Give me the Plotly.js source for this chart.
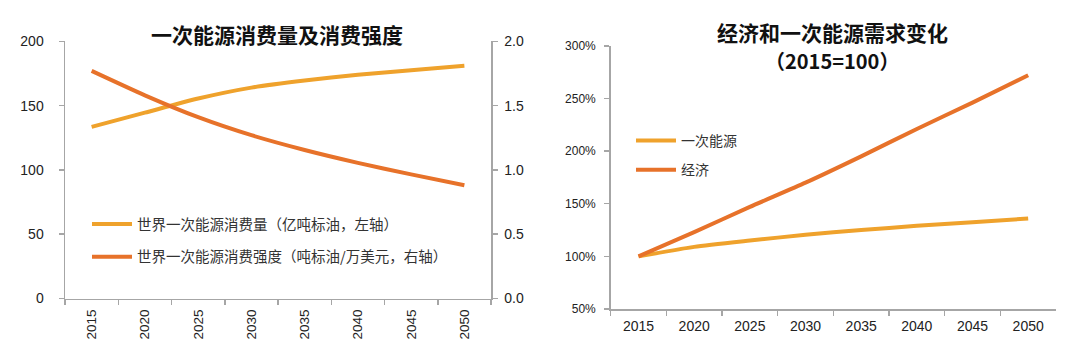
<!DOCTYPE html>
<html>
<head>
<meta charset="utf-8">
<script src="https://cdn.plot.ly/plotly-3.0.1.min.js"></script>
<style>html,body{margin:0;padding:0;background:#fff;}#chart{width:1080px;height:345px;}</style>
</head>
<body>
<div id="chart"></div>
<script>
// ---- data ----
const years = ['2015','2020','2025','2030','2035','2040','2045','2050'];
const consumption = [133.5, 144.5, 155.5, 164, 169.5, 174, 177.5, 181];        // 亿吨标油, left axis
const intensity   = [1.77, 1.58, 1.41, 1.27, 1.155, 1.055, 0.965, 0.88];       // 吨标油/万美元, right axis
const energyIdx   = [100, 109, 115, 120.5, 125, 129, 132.5, 136];              // 一次能源 (%)
const economyIdx  = [100, 123, 147, 170, 195, 221, 246, 272];                  // 经济 (%)

const leftTitle = '一次能源消费量及消费强度';
const rightTitle1 = '经济和一次能源需求变化';
const rightTitle2 = '（2015=100）';
const nameConsumption = '世界一次能源消费量（亿吨标油，左轴）';
const nameIntensity = '世界一次能源消费强度（吨标油/万美元，右轴）';
const nameEnergy = '一次能源';
const nameEconomy = '经济';

const YEL = '#EFA22C';
const ORG = '#E7722A';
const AX = '#A6A6A6';
const NUM = 'Liberation Sans, Arial, sans-serif';
const CJK = 'Noto Sans CJK SC, sans-serif';

const W = 1080, H = 345;
const px = v => v / W;
const py = v => 1 - v / H;

const lineStyle = (c) => ({color: c, width: 4, shape: 'spline', smoothing: 0.6});

const traces = [
  {x: years, y: consumption, name: nameConsumption, type: 'scatter', mode: 'lines',
   line: lineStyle(YEL), xaxis: 'x', yaxis: 'y', legend: 'legend', legendgroup: 'a'},
  {x: years, y: intensity, name: nameIntensity, type: 'scatter', mode: 'lines',
   line: lineStyle(ORG), xaxis: 'x', yaxis: 'y2', legend: 'legend', legendgroup: 'b'},
  {x: years, y: energyIdx, name: nameEnergy, type: 'scatter', mode: 'lines',
   line: lineStyle(YEL), xaxis: 'x2', yaxis: 'y3', legend: 'legend2', legendgroup: 'c'},
  {x: years, y: economyIdx, name: nameEconomy, type: 'scatter', mode: 'lines',
   line: lineStyle(ORG), xaxis: 'x2', yaxis: 'y3', legend: 'legend2', legendgroup: 'd'}
];

const baseAxis = {
  showgrid: false, zeroline: false, showline: true, linecolor: AX, linewidth: 1.5,
  ticks: 'outside', ticklen: 5, tickcolor: AX, tickwidth: 1.5, fixedrange: true
};

const layout = {
  width: W, height: H,
  margin: {l: 0, r: 0, t: 0, b: 0},
  paper_bgcolor: '#fff', plot_bgcolor: '#fff',
  showlegend: true,
  xaxis: Object.assign({}, baseAxis, {
    domain: [px(65), px(491)], anchor: 'y', type: 'category', tickson: 'boundaries',
    range: [-0.5, 7.5], tickangle: -90,
    tickfont: {family: NUM, size: 13.5, color: '#222'}, ticklabelstandoff: 4
  }),
  yaxis: Object.assign({}, baseAxis, {
    domain: [py(298.5), py(41.3)], anchor: 'x', range: [0, 200], dtick: 50,
    tickfont: {family: NUM, size: 14, color: '#222'}, ticklabelstandoff: 12
  }),
  yaxis2: Object.assign({}, baseAxis, {
    domain: [py(298.5), py(41.3)], anchor: 'x', overlaying: 'y', side: 'right',
    range: [0, 2], dtick: 0.5, tickformat: '.1f',
    tickfont: {family: NUM, size: 14, color: '#222'}, ticklabelstandoff: 4
  }),
  xaxis2: Object.assign({}, baseAxis, {
    domain: [px(610.7), px(1056)], anchor: 'y3', type: 'category', tickson: 'boundaries',
    range: [-0.5, 7.5],
    tickfont: {family: NUM, size: 14, color: '#222'},
    ticklabelstandoff: 4
  }),
  yaxis3: Object.assign({}, baseAxis, {
    domain: [py(309), py(45.8)], anchor: 'x2', range: [50, 300], dtick: 50, ticksuffix: '%',
    tickfont: {family: NUM, size: 12, color: '#222'}, ticklabelstandoff: 6
  }),
  legend: {
    x: px(87), y: py(208), xanchor: 'left', yanchor: 'top', xref: 'paper', yref: 'paper',
    bgcolor: 'rgba(0,0,0,0)', tracegroupgap: 11, itemwidth: 40,
    font: {family: CJK, size: 14.5, color: '#333'}
  },
  legend2: {
    x: px(631), y: py(125), xanchor: 'left', yanchor: 'top', xref: 'paper', yref: 'paper',
    bgcolor: 'rgba(0,0,0,0)', tracegroupgap: 8, itemwidth: 40,
    font: {family: CJK, size: 14, color: '#333'}
  },
  annotations: [
    {text: leftTitle, xref: 'paper', yref: 'paper', x: px(277), y: py(34),
     xanchor: 'center', yanchor: 'middle', showarrow: false,
     font: {family: CJK, size: 21, color: '#111', weight: 'bold'}},
    {text: rightTitle1, xref: 'paper', yref: 'paper', x: px(832), y: py(32),
     xanchor: 'center', yanchor: 'middle', showarrow: false,
     font: {family: CJK, size: 21, color: '#111', weight: 'bold'}},
    {text: rightTitle2, xref: 'paper', yref: 'paper', x: px(832), y: py(60),
     xanchor: 'center', yanchor: 'middle', showarrow: false,
     font: {family: CJK, size: 20, color: '#111', weight: 'bold'}}
  ]
};

Plotly.newPlot('chart', traces, layout, {displayModeBar: false, staticPlot: true});
</script>
</body>
</html>
